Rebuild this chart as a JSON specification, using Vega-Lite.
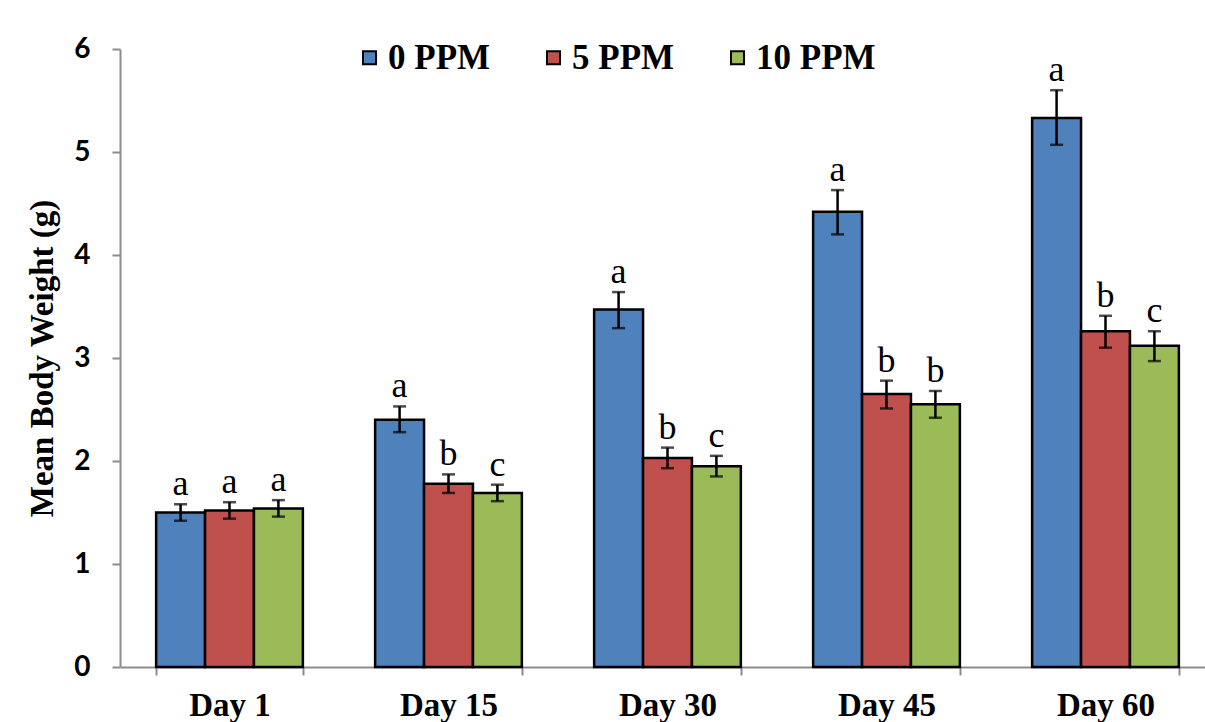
{
  "$schema": "https://vega.github.io/schema/vega-lite/v6.json",
  "autosize": {"type": "none"},
  "padding": {"left": 120, "top": 49, "right": 0, "bottom": 55},
  "width": 1095,
  "height": 618,
  "background": "white",
  "config": {
    "view": {"stroke": null},
    "axis": {"grid": false}
  },
  "data": {
    "values": [
      {"day": "Day 1", "group": "0 PPM", "mean": 1.50, "lo": 1.42, "hi": 1.58, "sig": "a"},
      {"day": "Day 1", "group": "5 PPM", "mean": 1.52, "lo": 1.44, "hi": 1.60, "sig": "a"},
      {"day": "Day 1", "group": "10 PPM", "mean": 1.54, "lo": 1.46, "hi": 1.62, "sig": "a"},
      {"day": "Day 15", "group": "0 PPM", "mean": 2.40, "lo": 2.28, "hi": 2.53, "sig": "a"},
      {"day": "Day 15", "group": "5 PPM", "mean": 1.78, "lo": 1.69, "hi": 1.87, "sig": "b"},
      {"day": "Day 15", "group": "10 PPM", "mean": 1.69, "lo": 1.61, "hi": 1.77, "sig": "c"},
      {"day": "Day 30", "group": "0 PPM", "mean": 3.47, "lo": 3.29, "hi": 3.64, "sig": "a"},
      {"day": "Day 30", "group": "5 PPM", "mean": 2.03, "lo": 1.93, "hi": 2.13, "sig": "b"},
      {"day": "Day 30", "group": "10 PPM", "mean": 1.95, "lo": 1.85, "hi": 2.05, "sig": "c"},
      {"day": "Day 45", "group": "0 PPM", "mean": 4.42, "lo": 4.20, "hi": 4.63, "sig": "a"},
      {"day": "Day 45", "group": "5 PPM", "mean": 2.65, "lo": 2.51, "hi": 2.78, "sig": "b"},
      {"day": "Day 45", "group": "10 PPM", "mean": 2.55, "lo": 2.42, "hi": 2.68, "sig": "b"},
      {"day": "Day 60", "group": "0 PPM", "mean": 5.33, "lo": 5.07, "hi": 5.60, "sig": "a"},
      {"day": "Day 60", "group": "5 PPM", "mean": 3.26, "lo": 3.10, "hi": 3.41, "sig": "b"},
      {"day": "Day 60", "group": "10 PPM", "mean": 3.12, "lo": 2.97, "hi": 3.26, "sig": "c"}
    ]
  },
  "encoding": {
    "x": {
      "field": "day", "type": "nominal",
      "sort": ["Day 1", "Day 15", "Day 30", "Day 45", "Day 60"],
      "scale": {"paddingInner": 0.33, "paddingOuter": 0.165},
      "axis": {
        "title": null, "labelAngle": 0,
        "labelFont": "Liberation Serif", "labelFontWeight": "bold", "labelFontSize": 33, "labelColor": "black",
        "labelPadding": 14, "tickBand": "extent", "tickSize": 8, "tickColor": "#8c8c8c", "tickWidth": 2,
        "domainColor": "#8c8c8c", "domainWidth": 2
      }
    },
    "xOffset": {
      "field": "group", "type": "nominal",
      "sort": ["0 PPM", "5 PPM", "10 PPM"],
      "scale": {"paddingInner": 0, "paddingOuter": 0}
    }
  },
  "layer": [
    {
      "mark": {"type": "bar", "stroke": "black", "strokeWidth": 2.5},
      "encoding": {
        "y": {
          "field": "mean", "type": "quantitative",
          "scale": {"domain": [0, 6]},
          "axis": {
            "title": "Mean Body Weight (g)",
            "titleFont": "Liberation Serif", "titleFontWeight": "bold", "titleFontSize": 33, "titleColor": "black",
            "titlePadding": 14,
            "values": [0, 1, 2, 3, 4, 5, 6], "format": "d",
            "labelFont": "Lato", "labelFontWeight": "bold", "labelFontSize": 28, "labelColor": "black",
            "labelPadding": 22, "tickSize": 8, "tickColor": "#8c8c8c", "tickWidth": 2,
            "domainColor": "#8c8c8c", "domainWidth": 2
          }
        },
        "color": {
          "field": "group", "type": "nominal",
          "sort": ["0 PPM", "5 PPM", "10 PPM"],
          "scale": {"domain": ["0 PPM", "5 PPM", "10 PPM"], "range": ["#4F81BD", "#C0504D", "#9BBB59"]},
          "legend": {
            "title": null, "orient": "none", "direction": "horizontal",
            "legendX": 232, "legendY": -9,
            "symbolType": "square", "symbolSize": 170, "symbolStrokeColor": "black", "symbolStrokeWidth": 2,
            "symbolOpacity": 1,
            "labelFont": "Liberation Serif", "labelFontWeight": "bold", "labelFontSize": 35, "labelColor": "black",
            "labelOffset": 1, "columnPadding": 45
          }
        }
      }
    },
    {
      "mark": {"type": "rule", "color": "black", "strokeWidth": 2.5},
      "encoding": {
        "y": {"field": "lo", "type": "quantitative"},
        "y2": {"field": "hi"}
      }
    },
    {
      "mark": {"type": "tick", "color": "black", "size": 13, "thickness": 2.5, "orient": "horizontal"},
      "encoding": {"y": {"field": "lo", "type": "quantitative"}}
    },
    {
      "mark": {"type": "tick", "color": "black", "size": 13, "thickness": 2.5, "orient": "horizontal"},
      "encoding": {"y": {"field": "hi", "type": "quantitative"}}
    },
    {
      "mark": {"type": "text", "font": "Liberation Serif", "fontSize": 36, "color": "black", "baseline": "alphabetic", "dy": -9},
      "encoding": {
        "y": {"field": "hi", "type": "quantitative"},
        "text": {"field": "sig"}
      }
    }
  ]
}
